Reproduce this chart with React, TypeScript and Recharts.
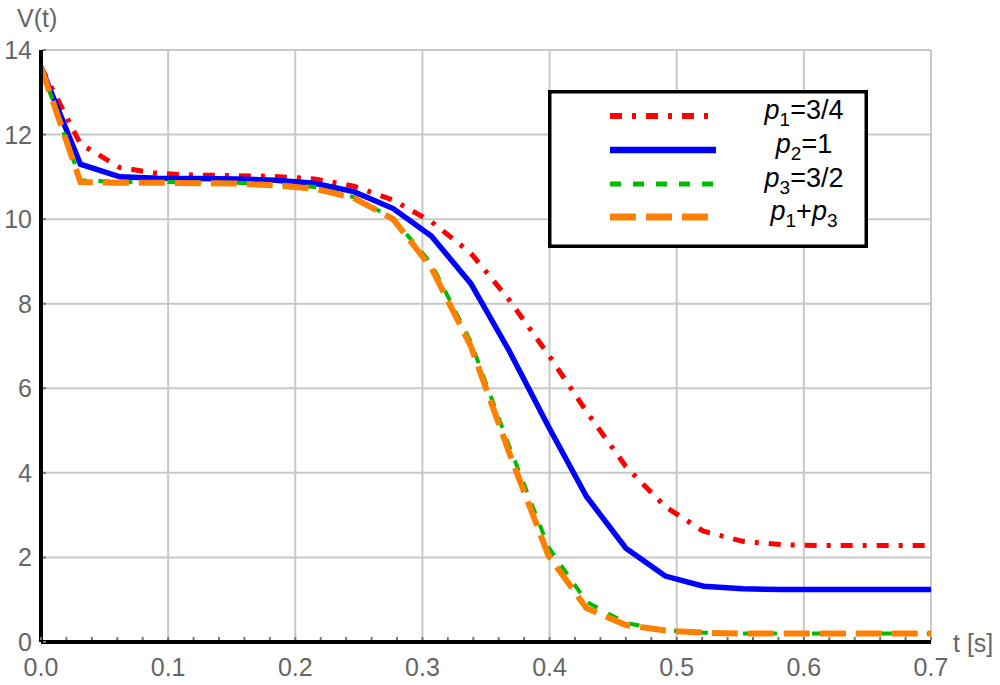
import { CartesianGrid, Line, LineChart, XAxis, YAxis } from "recharts";

// time samples (s)
const tValues = [
  0, 0.031, 0.062, 0.092, 0.123, 0.154, 0.184, 0.215, 0.246, 0.277, 0.307, 0.338,
  0.368, 0.399, 0.429, 0.46, 0.491, 0.521, 0.552, 0.583, 0.613, 0.644, 0.674, 0.7,
];

const vP1 = [
  13.6, 11.78, 11.22, 11.08, 11.04, 11.03, 11.01, 10.95, 10.78, 10.45, 9.94, 9.2,
  8.1, 6.8, 5.45, 4.15, 3.2, 2.62, 2.38, 2.3, 2.28, 2.28, 2.28, 2.28,
];
const vP2 = [
  13.6, 11.3, 11.0, 10.97, 10.96, 10.95, 10.92, 10.85, 10.65, 10.25, 9.6, 8.48,
  6.9, 5.1, 3.44, 2.22, 1.56, 1.32, 1.26, 1.24, 1.24, 1.24, 1.24, 1.24,
];
const vP3 = [
  13.6, 10.92, 10.88, 10.88, 10.87, 10.86, 10.83, 10.76, 10.52, 10.02, 8.95, 7.1,
  4.65, 2.25, 0.95, 0.45, 0.28, 0.22, 0.2, 0.2, 0.2, 0.2, 0.2, 0.2,
];
const vP13 = [
  13.6, 10.88, 10.86, 10.86, 10.85, 10.84, 10.8, 10.72, 10.5, 10.0, 8.85, 7.0,
  4.5, 2.05, 0.8, 0.4, 0.27, 0.22, 0.2, 0.2, 0.2, 0.2, 0.2, 0.2,
];

const xTicks = [
  0, 0.02, 0.04, 0.06, 0.08, 0.1, 0.12, 0.14, 0.16, 0.18, 0.2, 0.22, 0.24, 0.26, 0.28,
  0.3, 0.32, 0.34, 0.36, 0.38, 0.4, 0.42, 0.44, 0.46, 0.48, 0.5, 0.52, 0.54, 0.56,
  0.58, 0.6, 0.62, 0.64, 0.66, 0.68, 0.7,
];
const xGrid = [0, 0.1, 0.2, 0.3, 0.4, 0.5, 0.6, 0.7];
const yTicks = [0, 2, 4, 6, 8, 10, 12, 14];

const rows = tValues.map((t, i) => ({
  t,
  p1: vP1[i],
  p2: vP2[i],
  p3: vP3[i],
  p13: vP13[i],
}));

const FONT = '"Liberation Sans", Arial, sans-serif';
const RED = "#ff0000";
const BLUE = "#0000ff";
const GREEN = "#00bb00";
const ORANGE = "#ff8000";

const series = [
  { key: "p1", color: RED, width: 5, dash: "12 10 4 10", sub: "1", rest: "=3/4" },
  { key: "p2", color: BLUE, width: 5.5, dash: undefined, sub: "2", rest: "=1" },
  { key: "p3", color: GREEN, width: 4, dash: "11 12", sub: "3", rest: "=3/2" },
  { key: "p13", color: ORANGE, width: 6, dash: "26 10", sub: "1", rest: "+" },
];

function XTick({ x, y, payload }: any) {
  const v = payload.value as number;
  const major = Math.round(v * 100) % 10 === 0;
  return (
    <g>
      <line x1={x} x2={x} y1={y - 2} y2={y - 5} stroke="#777" strokeWidth={2} />
      {major && (
        <text x={x} y={y + 25} textAnchor="middle" dominantBaseline="central" fill="#666" fontSize={25} fontFamily={FONT}>
          {v.toFixed(1)}
        </text>
      )}
    </g>
  );
}

function YTick({ x, y, payload }: any) {
  return (
    <g>
      <line x1={x + 2} x2={x + 5} y1={y} y2={y} stroke="#777" strokeWidth={2} />
      <text x={x - 9} y={y} textAnchor="end" dominantBaseline="central" fill="#666" fontSize={25} fontFamily={FONT}>
        {payload.value}
      </text>
    </g>
  );
}

function LegendBox() {
  const rowsY = [26, 60, 94, 127];
  return (
    <svg width={320} height={158} style={{ position: "absolute", left: 548, top: 90 }}>
      <rect x={1.75} y={1.75} width={316.5} height={154.5} fill="#fff" stroke="#000" strokeWidth={3.5} />
      {series.map((s, i) => (
        <g key={s.key}>
          <line
            x1={62}
            x2={168}
            y1={rowsY[i]}
            y2={rowsY[i]}
            stroke={s.color}
            strokeWidth={s.width + 1}
            strokeDasharray={s.dash}
          />
          <text x={256} y={rowsY[i] + 3} textAnchor="middle" fontSize={27} fontFamily={FONT} fill="#000">
            <tspan fontStyle="italic">p</tspan>
            <tspan fontSize={19} dy={7}>{s.sub}</tspan>
            <tspan dy={-7}>{s.rest}</tspan>
            {s.key === "p13" && (
              <>
                <tspan fontStyle="italic">p</tspan>
                <tspan fontSize={19} dy={7}>3</tspan>
              </>
            )}
          </text>
        </g>
      ))}
    </svg>
  );
}

export default function App() {
  return (
    <div style={{ position: "absolute", left: 0, top: 0, width: 1000, height: 685, background: "#fff", fontFamily: FONT }}>
      <LineChart width={1000} height={685} data={rows} margin={{ top: 50, right: 69, bottom: 0, left: 0 }}>
        <CartesianGrid stroke="#c8c8c8" strokeWidth={2} verticalValues={xGrid} horizontalValues={yTicks} />
        <XAxis
          dataKey="t"
          type="number"
          domain={[0, 0.7]}
          ticks={xTicks}
          interval={0}
          height={43}
          tickSize={0}
          tickMargin={0}
          tickLine={false}
          axisLine={{ stroke: "#000", strokeWidth: 4 }}
          tick={<XTick />}
          allowDataOverflow
        />
        <YAxis
          type="number"
          domain={[0, 14]}
          ticks={yTicks}
          interval={0}
          width={41}
          tickSize={0}
          tickMargin={0}
          tickLine={false}
          axisLine={{ stroke: "#000", strokeWidth: 4 }}
          tick={<YTick />}
          allowDataOverflow
        />
        {series.map((s) => (
          <Line
            key={s.key}
            type="linear"
            dataKey={s.key}
            stroke={s.color}
            strokeWidth={s.width}
            strokeDasharray={s.dash}
            dot={false}
            activeDot={false}
            isAnimationActive={false}
          />
        ))}
      </LineChart>
      <div style={{ position: "absolute", left: 17, top: 3, fontSize: 25, color: "#666", lineHeight: "30px" }}>V(t)</div>
      <div style={{ position: "absolute", left: 953, top: 628, fontSize: 25, color: "#666", lineHeight: "30px" }}>t [s]</div>
      <LegendBox />
    </div>
  );
}
